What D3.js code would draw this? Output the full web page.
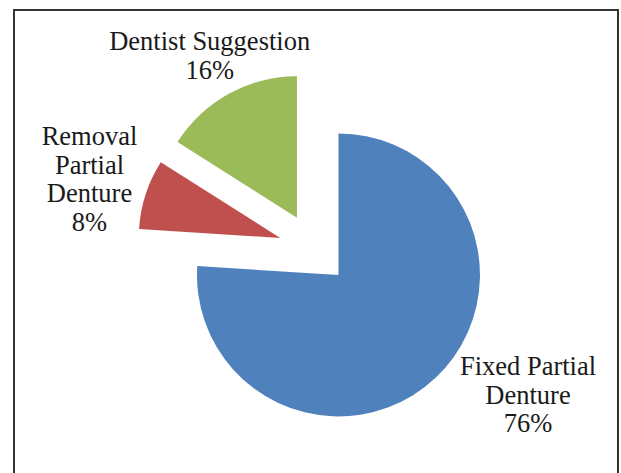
<!DOCTYPE html>
<html>
<head>
<meta charset="utf-8">
<script src="https://cdn.jsdelivr.net/npm/d3@7"></script>
<style>
  html, body { margin: 0; padding: 0; background: #fff; }
  svg { display: block; }
  .lbl text { font-family: "Liberation Serif", "Times New Roman", Times, serif; font-size: 26.5px; fill: #1a1a1a; }
</style>
</head>
<body>
<svg id="chart" width="621" height="473"></svg>
<script>
// ---- data ----
const categories = ["Fixed Partial Denture", "Removal Partial Denture", "Dentist Suggestion"];
const values = [76, 8, 16];
const labelLines = [
  ["Fixed Partial", "Denture", "76%"],
  ["Removal", "Partial", "Denture", "8%"],
  ["Dentist Suggestion", "16%"]
];
const colors = ["#4F81BD", "#C0504D", "#9BBB59"];

// ---- layout ----
const center = [314.1, 249.0];
const radius = 141.5;
const explode = 35.6;
const labelCenters = [[528, 375], [89.5, 145], [209.7, 50]]; // x center, first baseline
const lineH = 28.5;

const svg = d3.select("#chart");

// frame
svg.append("rect")
  .attr("x", 14).attr("y", 10)
  .attr("width", 604).attr("height", 480)
  .attr("fill", "none").attr("stroke", "#333").attr("stroke-width", 2);

const pie = d3.pie().sort(null).value(d => d)
  .startAngle(0).endAngle(2 * Math.PI);
const arcs = pie(values);
const arc = d3.arc().innerRadius(0).outerRadius(radius);

const g = svg.append("g").attr("transform", `translate(${center[0]},${center[1]})`);

g.selectAll("path")
  .data(arcs)
  .join("path")
  .attr("d", arc)
  .attr("fill", (d, i) => colors[i])
  .attr("transform", d => {
    const mid = (d.startAngle + d.endAngle) / 2;
    const dx = Math.sin(mid) * explode;
    const dy = -Math.cos(mid) * explode;
    return `translate(${dx},${dy})`;
  });

// labels
const lbl = svg.append("g").attr("class", "lbl")
  .attr("text-anchor", "middle");

labelLines.forEach((lines, i) => {
  const t = lbl.append("text")
    .attr("x", labelCenters[i][0])
    .attr("y", labelCenters[i][1]);
  lines.forEach((ln, j) => {
    t.append("tspan")
      .attr("x", labelCenters[i][0])
      .attr("y", labelCenters[i][1] + j * lineH)
      .text(ln);
  });
});
</script>
</body>
</html>
